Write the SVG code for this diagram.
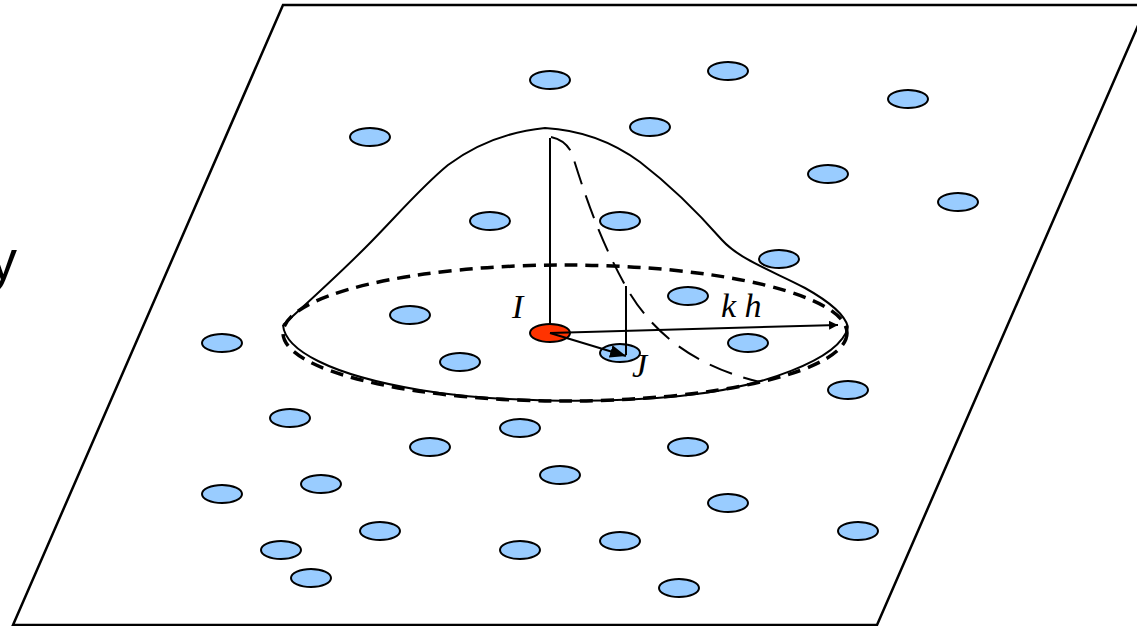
<svg xmlns="http://www.w3.org/2000/svg" width="1137" height="626" viewBox="0 0 1137 626">
<style>
.p{fill:#99ccff;stroke:#000;stroke-width:2}
.l{fill:none;stroke:#000;stroke-width:2}
.t{font-family:"Liberation Serif",serif;font-style:italic;font-size:34px;fill:#000}
</style>
<defs>
<marker id="ah" viewBox="0 0 10 10" refX="10" refY="5" markerWidth="9" markerHeight="9" markerUnits="userSpaceOnUse" orient="auto"><path d="M0,0 L10,5 L0,10 Z" fill="#000"/></marker>
<marker id="ah2" viewBox="0 0 10 10" refX="10" refY="5" markerWidth="16" markerHeight="16" markerUnits="userSpaceOnUse" orient="auto"><path d="M0,1 L10,5 L0,9 Z" fill="#000"/></marker>
</defs>
<rect width="1137" height="626" fill="#fff"/>
<text x="-11" y="279" font-family="Liberation Sans,Arial,sans-serif" font-size="56">y</text>
<g id="plane"><polygon points="283,5 1147,5 877,625 13,625" fill="none" stroke="#000" stroke-width="2.5"/></g>
<g id="particles">
<ellipse class="p" cx="550" cy="80" rx="20" ry="9"/>
<ellipse class="p" cx="728" cy="71" rx="20" ry="9"/>
<ellipse class="p" cx="908" cy="99" rx="20" ry="9"/>
<ellipse class="p" cx="370" cy="137" rx="20" ry="9"/>
<ellipse class="p" cx="650" cy="127" rx="20" ry="9"/>
<ellipse class="p" cx="828" cy="174" rx="20" ry="9"/>
<ellipse class="p" cx="958" cy="202" rx="20" ry="9"/>
<ellipse class="p" cx="490" cy="221" rx="20" ry="9"/>
<ellipse class="p" cx="620" cy="221" rx="20" ry="9"/>
<ellipse class="p" cx="779" cy="259" rx="20" ry="9"/>
<ellipse class="p" cx="688" cy="296" rx="20" ry="9"/>
<ellipse class="p" cx="410" cy="315" rx="20" ry="9"/>
<ellipse class="p" cx="222" cy="343" rx="20" ry="9"/>
<ellipse class="p" cx="460" cy="362" rx="20" ry="9"/>
<ellipse class="p" cx="748" cy="343" rx="20" ry="9"/>
<ellipse class="p" cx="848" cy="390" rx="20" ry="9"/>
<ellipse class="p" cx="290" cy="418" rx="20" ry="9"/>
<ellipse class="p" cx="520" cy="428" rx="20" ry="9"/>
<ellipse class="p" cx="430" cy="447" rx="20" ry="9"/>
<ellipse class="p" cx="688" cy="447" rx="20" ry="9"/>
<ellipse class="p" cx="560" cy="475" rx="20" ry="9"/>
<ellipse class="p" cx="321" cy="484" rx="20" ry="9"/>
<ellipse class="p" cx="222" cy="494" rx="20" ry="9"/>
<ellipse class="p" cx="728" cy="503" rx="20" ry="9"/>
<ellipse class="p" cx="380" cy="531" rx="20" ry="9"/>
<ellipse class="p" cx="858" cy="531" rx="20" ry="9"/>
<ellipse class="p" cx="620" cy="541" rx="20" ry="9"/>
<ellipse class="p" cx="520" cy="550" rx="20" ry="9"/>
<ellipse class="p" cx="281" cy="550" rx="20" ry="9"/>
<ellipse class="p" cx="311" cy="578" rx="20" ry="9"/>
<ellipse class="p" cx="679" cy="588" rx="20" ry="9"/>
<ellipse class="p" cx="620" cy="353" rx="20" ry="9"/>
</g>
<g id="kernel">
<path class="l" d="M283,325 C305,305 335,278 365,248 C395,218 420,188 448,165 C475,145 505,132 545,128 C580,130 610,140 640,162 C670,185 700,215 722,240 C740,260 775,272 805,288 C830,302 845,315 848,327"/>
<path class="l" d="M283,325 C285,350 330,375 420,390 C490,402 600,404 680,396 C760,388 840,360 848,327"/>
<ellipse cx="565" cy="333" rx="282" ry="68" fill="none" stroke="#000" stroke-width="3.5" stroke-dasharray="13,8"/>
<path class="l" stroke-width="3.5" stroke-dasharray="24,12" d="M551,137 C565,140 572,150 574,160 C585,195 600,240 625,285 C650,330 690,365 760,382"/>
<line class="l" x1="550" y1="138" x2="550" y2="333"/>
<line class="l" x1="626" y1="286" x2="626" y2="355" stroke-width="2.5"/>
</g>
<g id="particleI"><ellipse cx="550" cy="333" rx="20" ry="9" fill="#ff3300" stroke="#000" stroke-width="2"/></g>
<g id="connectors">
<line class="l" x1="550" y1="333" x2="838" y2="325" marker-end="url(#ah)"/>
<line class="l" x1="550" y1="333" x2="626" y2="356" marker-end="url(#ah2)"/>
</g>
<g id="labels">
<text class="t" x="512" y="318">I</text>
<text class="t" x="632" y="377">J</text>
<text class="t" x="721" y="317">k h</text>
</g>
</svg>
